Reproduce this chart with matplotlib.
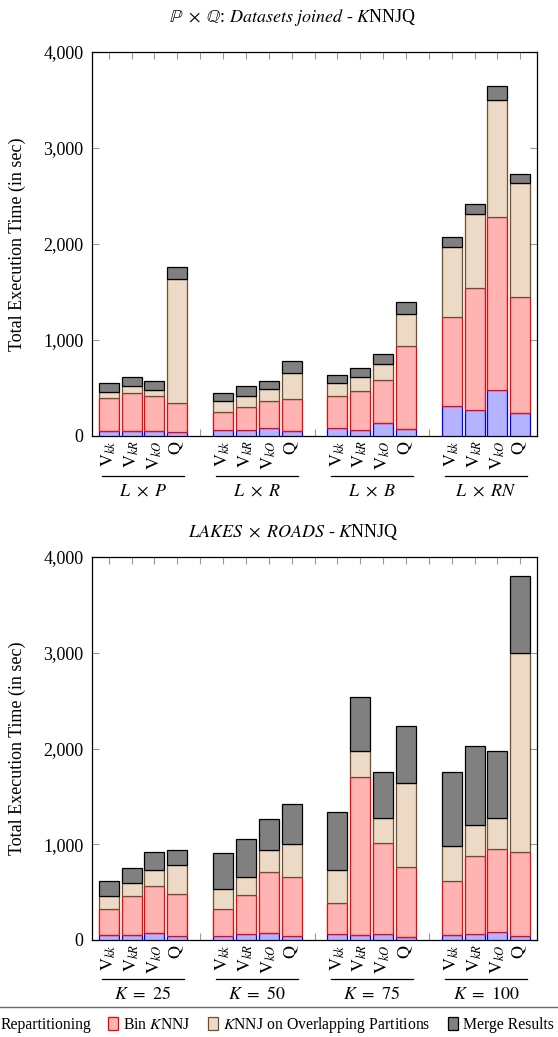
import matplotlib
matplotlib.use("Agg")
import matplotlib.pyplot as plt
from matplotlib.patches import Patch
from matplotlib.ticker import FuncFormatter
import numpy as np

plt.rcParams['font.family'] = 'serif'
plt.rcParams['font.serif'] = ['Liberation Serif', 'DejaVu Serif']
plt.rcParams['mathtext.fontset'] = 'stix'

# bar labels inside each group
methods = [r"$\mathrm{V}_{kk}$", r"$\mathrm{V}_{kR}$", r"$\mathrm{V}_{kO}$", r"$\mathrm{Q}$"]

# top chart: datasets joined (rows = groups, cols = methods), seconds
top_groups = [r"$L\ \times\ P$", r"$L\ \times\ R$", r"$L\ \times\ B$", r"$L\ \times\ RN$"]
top_repart = [[52, 49, 49, 38], [59, 59, 80, 49], [80, 66, 139, 69], [309, 267, 476, 236]]
top_bin = [[347, 396, 368, 302], [188, 240, 288, 333], [340, 399, 444, 865], [927, 1271, 1805, 1208]]
top_overlap = [[56, 72, 59, 1299], [121, 121, 118, 278], [129, 153, 170, 340], [730, 778, 1219, 1191]]
top_merge = [[97, 94, 94, 118], [83, 104, 84, 118], [83, 87, 98, 118], [107, 104, 149, 97]]

# bottom chart: LAKES x ROADS for varying K
bot_groups = [r"$K\ =\ 25$", r"$K\ =\ 50$", r"$K\ =\ 75$", r"$K\ =\ 100$"]
bot_repart = [[52, 52, 69, 38], [45, 59, 69, 38], [59, 49, 62, 35], [49, 59, 83, 38]]
bot_bin = [[267, 406, 493, 445], [281, 413, 646, 615], [326, 1652, 955, 725], [562, 819, 872, 882]]
bot_overlap = [[143, 139, 164, 298], [202, 188, 229, 354], [341, 278, 257, 879], [372, 320, 319, 2073]]
bot_merge = [[156, 160, 191, 163], [385, 396, 316, 417], [611, 559, 479, 597], [774, 830, 702, 809]]

series_names = ["Repartitioning", r"Bin $K$NNJ", r"$K$NNJ on Overlapping Partitions", "Merge Results"]
fills = ['#b3b3ff', '#ffb3b3', '#ecd9c6', '#808080']
edges = ['#0000ff', '#ff0000', '#6b4f2f', '#000000']

offsets = np.array([-0.3, -0.1, 0.1, 0.3])
width = 0.175


def draw_chart(ax, groups, series, title_y, title):
    x = np.arange(len(groups))
    bottom = np.zeros((len(groups), len(methods)))
    for vals, fc, ec in zip(series, fills, edges):
        vals = np.array(vals, dtype=float)
        for j in range(len(methods)):
            ax.bar(x + offsets[j], vals[:, j], width, bottom=bottom[:, j],
                   color=fc, edgecolor=ec, linewidth=0.9, zorder=3)
        bottom += vals

    centers = (x[:, None] + offsets[None, :]).ravel()
    ax.set_xticks(centers)
    ax.set_xticklabels(methods * len(groups), rotation=90, fontsize=13,
                       va='top', ha='center')
    ax.set_xticks([0.5, 1.5, 2.5], minor=True)
    ax.set_xlim(-0.446, 3.446)
    ax.set_ylim(0, 4000)
    ax.set_yticks([0, 1000, 2000, 3000, 4000])
    ax.yaxis.set_major_formatter(FuncFormatter(lambda v, p: f"{int(v):,}"))
    ax.set_axisbelow(True)
    ax.tick_params(axis='both', which='both', direction='in', color='#999999',
                   length=5, width=0.8, top=True, right=True)
    ax.tick_params(axis='y', labelsize=13, pad=6)
    ax.tick_params(axis='x', which='major', pad=3)
    for spine in ax.spines.values():
        spine.set_color('black')
        spine.set_linewidth(0.9)
    ax.set_ylabel('Total Execution Time (in sec)', fontsize=13)
    ax.yaxis.set_label_coords(-0.148, 0.5)

    # group labels under the rotated tick labels
    trans = ax.get_xaxis_transform()
    line_y, text_y = -0.103, -0.143
    for i, g in enumerate(groups):
        ax.plot([i - 0.36, i + 0.36], [line_y, line_y], color='black', lw=0.9,
                transform=trans, clip_on=False)
        ax.text(i, text_y, g, transform=trans, ha='center', va='center', fontsize=13)

    ax.figure.text(293 / 558, title_y, title, ha='center', va='center', fontsize=13)


fig = plt.figure(figsize=(5.58, 10.37), dpi=100)
fig.patch.set_facecolor('white')
ax1 = fig.add_axes([92 / 558, 1 - 436 / 1037, 445 / 558, 384 / 1037])
ax2 = fig.add_axes([92 / 558, 1 - 940 / 1037, 445 / 558, 383 / 1037])

draw_chart(ax1, top_groups, [top_repart, top_bin, top_overlap, top_merge],
           1 - 17 / 1037,
           r"$\mathbb{P}\ \times\ \mathbb{Q}$: $\mathit{Datasets\ joined}$ - $K$NNJQ")
draw_chart(ax2, bot_groups, [bot_repart, bot_bin, bot_overlap, bot_merge],
           1 - 532 / 1037,
           r"$\mathit{LAKES}\ \times\ \mathit{ROADS}$ - $K$NNJQ")

handles = [Patch(facecolor=fc, edgecolor=ec, linewidth=0.9) for fc, ec in zip(fills, edges)]
fig.legend(handles, series_names, loc='center', bbox_to_anchor=(0.483, 1 - 1025 / 1037),
           ncol=4, fontsize=11.3, frameon=True, fancybox=False, edgecolor='#444444',
           handlelength=0.63, handleheight=0.9, handletextpad=0.32, columnspacing=1.1,
           borderpad=0.5)

fig.savefig('out.png', dpi=100, facecolor='white')
plt.close(fig)
